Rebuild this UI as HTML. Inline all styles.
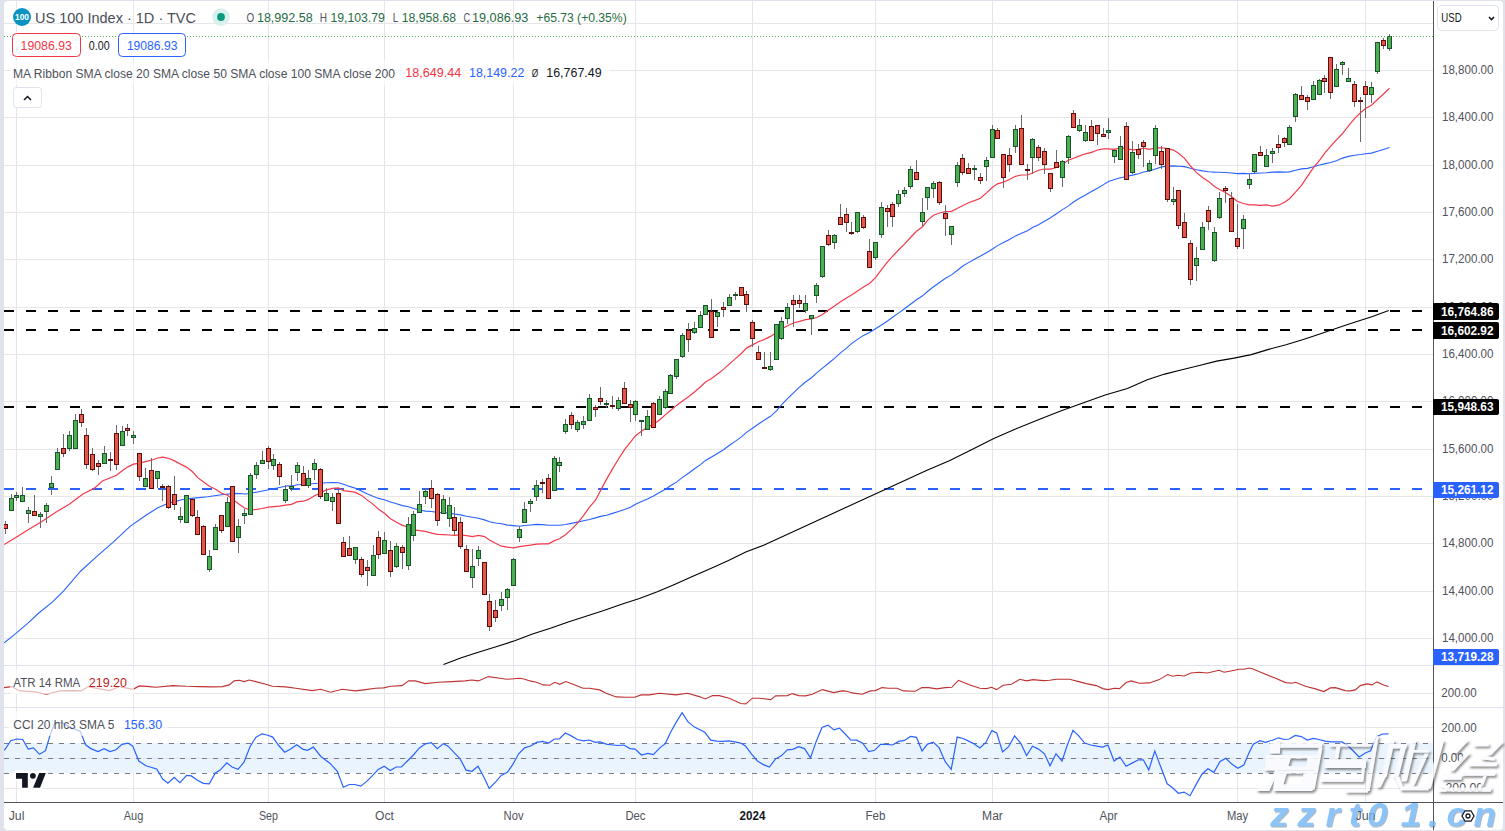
<!DOCTYPE html>
<html><head><meta charset="utf-8"><style>
html,body{margin:0;padding:0;background:#e0e3eb;width:1505px;height:831px;overflow:hidden;}
</style></head><body>
<svg width="1505" height="831" viewBox="0 0 1505 831" style="position:absolute;left:0;top:0;font-family:'Liberation Sans', sans-serif">
<defs><clipPath id="cm"><rect x="4" y="1" width="1429" height="664"/></clipPath><clipPath id="ca"><rect x="4" y="666" width="1429" height="41"/></clipPath><clipPath id="cc"><rect x="4" y="708" width="1429" height="94"/></clipPath></defs>
<rect x="4" y="1" width="1499" height="829" rx="4" fill="#ffffff"/>
<rect x="16" y="1" width="1" height="801" fill="#e6e6e8"/>
<rect x="133" y="1" width="1" height="801" fill="#e6e6e8"/>
<rect x="268" y="1" width="1" height="801" fill="#e6e6e8"/>
<rect x="384" y="1" width="1" height="801" fill="#e6e6e8"/>
<rect x="513" y="1" width="1" height="801" fill="#e6e6e8"/>
<rect x="635" y="1" width="1" height="801" fill="#e6e6e8"/>
<rect x="752" y="1" width="1" height="801" fill="#e6e6e8"/>
<rect x="875" y="1" width="1" height="801" fill="#e6e6e8"/>
<rect x="992" y="1" width="1" height="801" fill="#e6e6e8"/>
<rect x="1108" y="1" width="1" height="801" fill="#e6e6e8"/>
<rect x="1237" y="1" width="1" height="801" fill="#e6e6e8"/>
<rect x="1365" y="1" width="1" height="801" fill="#e6e6e8"/>
<line x1="4" y1="638.5" x2="1433" y2="638.5" stroke="#e6e6e8" stroke-width="1"/>
<line x1="4" y1="591.5" x2="1433" y2="591.5" stroke="#e6e6e8" stroke-width="1"/>
<line x1="4" y1="543.5" x2="1433" y2="543.5" stroke="#e6e6e8" stroke-width="1"/>
<line x1="4" y1="496.5" x2="1433" y2="496.5" stroke="#e6e6e8" stroke-width="1"/>
<line x1="4" y1="449.5" x2="1433" y2="449.5" stroke="#e6e6e8" stroke-width="1"/>
<line x1="4" y1="401.5" x2="1433" y2="401.5" stroke="#e6e6e8" stroke-width="1"/>
<line x1="4" y1="354.5" x2="1433" y2="354.5" stroke="#e6e6e8" stroke-width="1"/>
<line x1="4" y1="307.5" x2="1433" y2="307.5" stroke="#e6e6e8" stroke-width="1"/>
<line x1="4" y1="259.5" x2="1433" y2="259.5" stroke="#e6e6e8" stroke-width="1"/>
<line x1="4" y1="212.5" x2="1433" y2="212.5" stroke="#e6e6e8" stroke-width="1"/>
<line x1="4" y1="165.5" x2="1433" y2="165.5" stroke="#e6e6e8" stroke-width="1"/>
<line x1="4" y1="117.5" x2="1433" y2="117.5" stroke="#e6e6e8" stroke-width="1"/>
<line x1="4" y1="70.5" x2="1433" y2="70.5" stroke="#e6e6e8" stroke-width="1"/>
<line x1="4" y1="23.5" x2="1433" y2="23.5" stroke="#e6e6e8" stroke-width="1"/>
<line x1="4" y1="693.5" x2="1433" y2="693.5" stroke="#e6e6e8"/>
<rect x="4" y="743" width="1429" height="30" fill="#e9f4fe"/>
<line x1="4" y1="727.5" x2="1433" y2="727.5" stroke="#e6e6e8"/>
<line x1="4" y1="758.5" x2="1433" y2="758.5" stroke="#e6e6e8"/>
<line x1="4" y1="788.5" x2="1433" y2="788.5" stroke="#e6e6e8"/>
<line x1="4" y1="743.5" x2="1433" y2="743.5" stroke="#787b86" stroke-dasharray="5 6"/>
<line x1="4" y1="758.5" x2="1433" y2="758.5" stroke="#787b86" stroke-dasharray="5 6"/>
<line x1="4" y1="773.5" x2="1433" y2="773.5" stroke="#787b86" stroke-dasharray="5 6"/>
<line x1="4" y1="665.5" x2="1503" y2="665.5" stroke="#e0e3eb"/>
<line x1="4" y1="707.5" x2="1503" y2="707.5" stroke="#e0e3eb"/>
<g clip-path="url(#cm)">
<line x1="4" y1="311" x2="1433" y2="311" stroke="#000" stroke-width="2" stroke-dasharray="10 12"/>
<line x1="4" y1="330" x2="1433" y2="330" stroke="#000" stroke-width="2" stroke-dasharray="10 12"/>
<line x1="4" y1="407" x2="1433" y2="407" stroke="#000" stroke-width="2" stroke-dasharray="10 12"/>
<line x1="4" y1="489" x2="1433" y2="489" stroke="#2962ff" stroke-width="2" stroke-dasharray="10 12"/>
<polyline points="443.5,664.4 461.3,657.7 479.1,651.9 496.9,646.5 514.7,640.8 532.5,634.1 550.4,628.3 568.2,622.0 586.0,616.3 603.8,610.5 621.6,604.2 639.4,598.4 657.3,591.8 675.1,584.2 692.9,576.2 710.7,568.6 728.5,560.6 746.3,551.7 764.2,545.0 927.0,470.2 949.3,460.8 971.5,449.7 993.8,438.5 1016.1,428.7 1038.4,419.8 1060.6,410.9 1082.9,402.9 1105.2,394.9 1127.4,388.6 1147.3,379.8 1164.7,374.1 1182.0,369.8 1199.3,365.5 1216.7,361.1 1234.0,358.1 1251.3,354.6 1268.6,349.4 1286.0,344.7 1303.3,339.5 1320.6,333.8 1338.0,327.8 1355.3,322.1 1372.6,316.5 1388.7,310.4" fill="none" stroke="#000" stroke-width="1.1"/>
<polyline points="4.2,642.9 13.8,635.2 27.7,623.3 38.8,613.0 52.6,601.9 63.7,590.9 80.3,571.5 96.9,556.3 113.5,541.9 130.1,526.4 146.7,514.7 157.8,507.8 168.9,503.1 182.7,499.5 193.8,498.1 207.6,496.7 221.5,494.8 235.3,493.4 246.4,494.0 257.4,492.0 271.3,489.3 287.9,485.7 291.5,486.0 297.5,484.8 303.5,484.5 308.5,484.2 314.5,483.5 320.5,483.3 326.5,482.8 332.5,482.5 338.5,482.8 343.5,484.3 349.5,486.4 355.5,488.2 361.5,491.0 367.5,494.0 373.5,496.6 378.5,498.4 384.5,499.8 390.5,501.9 396.5,503.8 402.5,505.6 408.5,506.8 413.5,508.5 419.5,510.0 425.5,511.1 431.5,511.5 437.5,512.4 443.5,512.6 449.5,513.3 454.5,514.1 460.5,514.9 466.5,516.2 472.5,517.2 478.5,518.3 484.5,519.9 489.5,521.7 495.5,523.0 501.5,523.8 507.5,525.1 513.5,525.6 519.5,526.2 524.5,525.5 530.5,525.0 536.5,524.4 542.5,524.6 548.5,525.3 554.5,525.2 559.5,525.2 565.5,524.5 571.5,523.4 577.5,522.1 583.5,520.8 589.5,519.5 595.5,517.9 600.5,516.4 606.5,515.2 612.5,513.4 618.5,511.5 624.5,509.6 630.5,507.3 635.5,504.2 641.5,501.5 647.5,498.9 653.5,495.9 659.5,492.5 665.5,489.3 670.5,485.7 676.5,482.1 682.5,477.4 688.5,473.2 694.5,468.7 700.5,464.6 705.5,460.4 711.5,457.0 717.5,453.5 723.5,449.7 729.5,445.2 735.5,441.1 741.5,436.9 746.5,432.4 752.5,428.2 758.5,424.0 764.5,420.0 770.5,416.3 776.5,410.9 781.5,404.9 787.5,398.7 793.5,392.8 799.5,387.1 805.5,382.0 811.5,377.7 816.5,373.2 822.5,368.1 828.5,363.3 834.5,358.3 840.5,352.9 846.5,348.2 851.5,343.6 857.5,339.4 863.5,335.4 869.5,332.4 875.5,328.8 881.5,325.0 887.5,321.0 892.5,317.3 898.5,313.1 904.5,308.8 910.5,304.2 916.5,299.7 922.5,295.8 927.5,291.5 933.5,286.8 939.5,282.5 945.5,278.3 951.5,274.9 957.5,270.3 962.5,266.3 968.5,262.6 974.5,259.2 980.5,256.1 986.5,252.7 992.5,249.0 997.5,245.6 1003.5,242.5 1009.5,239.5 1015.5,235.9 1021.5,233.2 1027.5,230.7 1032.5,227.6 1038.5,224.7 1044.5,221.2 1050.5,217.8 1056.5,213.7 1062.5,209.6 1068.5,205.9 1073.5,202.0 1079.5,198.3 1085.5,194.9 1091.5,191.6 1097.5,188.2 1103.5,184.6 1108.5,181.5 1114.5,179.6 1120.5,177.7 1126.5,176.5 1132.5,175.1 1138.5,173.7 1143.5,172.0 1149.5,171.0 1155.5,169.0 1161.5,166.9 1167.5,166.1 1173.5,165.9 1178.5,166.2 1184.5,166.6 1190.5,168.3 1196.5,169.7 1202.5,170.9 1208.5,171.7 1214.5,172.1 1219.5,172.3 1225.5,172.5 1231.5,173.0 1237.5,173.6 1243.5,173.4 1249.5,173.7 1254.5,173.4 1260.5,173.0 1266.5,172.7 1272.5,172.1 1278.5,171.9 1284.5,172.1 1289.5,171.9 1295.5,170.2 1301.5,168.9 1307.5,168.4 1313.5,166.8 1319.5,165.0 1324.5,163.9 1330.5,162.5 1336.5,160.7 1342.5,158.1 1348.5,156.4 1354.5,155.2 1360.5,154.5 1365.5,153.8 1371.5,153.1 1377.5,151.3 1383.5,149.4 1389.5,147.4" fill="none" stroke="#2962ff" stroke-width="1.1"/>
<polyline points="4.2,544.6 16.6,536.9 27.7,530.0 41.5,521.7 55.4,512.5 69.2,504.2 83.0,494.0 94.1,488.4 102.4,481.0 116.5,475.3 122.5,470.5 127.5,467.1 133.5,464.1 139.5,463.1 145.5,461.6 151.5,460.2 157.5,458.0 162.5,457.1 168.5,458.3 174.5,460.9 180.5,464.1 186.5,467.1 192.5,471.8 197.5,477.4 203.5,481.9 209.5,486.3 215.5,489.3 221.5,493.2 227.5,495.2 232.5,499.1 238.5,503.8 244.5,508.0 250.5,510.0 256.5,509.4 262.5,508.5 268.5,507.2 273.5,506.6 279.5,506.1 285.5,505.2 291.5,504.3 297.5,501.7 303.5,501.2 308.5,499.4 314.5,495.8 320.5,492.9 326.5,489.8 332.5,488.3 338.5,487.9 343.5,490.6 349.5,491.3 355.5,492.4 361.5,495.4 367.5,500.1 373.5,504.6 378.5,509.3 384.5,513.2 390.5,518.8 396.5,522.3 402.5,525.4 408.5,527.3 413.5,529.8 419.5,530.7 425.5,531.4 431.5,533.1 437.5,534.3 443.5,534.6 449.5,535.0 454.5,535.4 460.5,534.8 466.5,535.6 472.5,536.6 478.5,535.4 484.5,536.6 489.5,540.1 495.5,543.3 501.5,546.2 507.5,547.1 513.5,547.8 519.5,546.6 524.5,545.8 530.5,545.2 536.5,544.2 542.5,543.8 548.5,543.8 554.5,540.6 559.5,538.8 565.5,534.7 571.5,529.4 577.5,523.2 583.5,515.6 589.5,507.2 595.5,500.2 600.5,490.6 606.5,479.4 612.5,468.9 618.5,459.0 624.5,449.7 630.5,442.1 635.5,435.7 641.5,431.3 647.5,427.1 653.5,424.2 659.5,420.0 665.5,414.6 670.5,410.5 676.5,405.4 682.5,401.0 688.5,396.7 694.5,392.0 700.5,386.8 705.5,382.1 711.5,378.5 717.5,374.0 723.5,369.4 729.5,363.9 735.5,358.6 741.5,353.2 746.5,348.1 752.5,344.9 758.5,341.8 764.5,339.4 770.5,336.4 776.5,332.6 781.5,329.1 787.5,325.7 793.5,323.0 799.5,321.4 805.5,319.6 811.5,319.0 816.5,317.5 822.5,314.5 828.5,309.9 834.5,306.0 840.5,301.8 846.5,298.0 851.5,295.0 857.5,290.9 863.5,287.0 869.5,283.5 875.5,277.7 881.5,269.6 887.5,261.9 892.5,256.4 898.5,250.0 904.5,244.2 910.5,237.5 916.5,231.3 922.5,226.7 927.5,220.3 933.5,215.2 939.5,213.0 945.5,211.7 951.5,211.3 957.5,208.3 962.5,205.8 968.5,202.8 974.5,200.6 980.5,198.2 986.5,192.9 992.5,187.2 997.5,183.8 1003.5,182.1 1009.5,179.5 1015.5,176.3 1021.5,175.0 1027.5,175.0 1032.5,173.0 1038.5,170.2 1044.5,169.0 1050.5,169.2 1056.5,167.5 1062.5,164.6 1068.5,160.1 1073.5,158.2 1079.5,155.9 1085.5,153.8 1091.5,152.4 1097.5,150.0 1103.5,148.8 1108.5,148.9 1114.5,149.4 1120.5,147.9 1126.5,148.7 1132.5,149.8 1138.5,149.3 1143.5,148.1 1149.5,149.3 1155.5,147.9 1161.5,147.9 1167.5,148.5 1173.5,150.1 1178.5,153.3 1184.5,158.4 1190.5,166.0 1196.5,172.6 1202.5,177.4 1208.5,181.4 1214.5,186.4 1219.5,189.5 1225.5,192.5 1231.5,196.6 1237.5,201.5 1243.5,203.5 1249.5,204.9 1254.5,204.9 1260.5,205.4 1266.5,204.9 1272.5,206.1 1278.5,205.2 1284.5,202.3 1289.5,198.7 1295.5,192.2 1301.5,185.3 1307.5,176.4 1313.5,167.7 1319.5,160.4 1324.5,153.4 1330.5,146.3 1336.5,139.9 1342.5,133.5 1348.5,125.8 1354.5,118.6 1360.5,112.7 1365.5,108.5 1371.5,105.2 1377.5,99.5 1383.5,94.0 1389.5,88.2" fill="none" stroke="#f23a4a" stroke-width="1.2"/>
<g fill="#6a6a6a"><rect x="5" y="521" width="1" height="13"/><rect x="11" y="494" width="1" height="16"/><rect x="16" y="492" width="1" height="9"/><rect x="22" y="487" width="1" height="14"/><rect x="28" y="507" width="1" height="16"/><rect x="34" y="495" width="1" height="20"/><rect x="40" y="512" width="1" height="16"/><rect x="46" y="503" width="1" height="20"/><rect x="51" y="476" width="1" height="19"/><rect x="57" y="448" width="1" height="22"/><rect x="63" y="434" width="1" height="23"/><rect x="69" y="431" width="1" height="20"/><rect x="75" y="414" width="1" height="34"/><rect x="81" y="409" width="1" height="18"/><rect x="86" y="428" width="1" height="41"/><rect x="92" y="448" width="1" height="23"/><rect x="98" y="460" width="1" height="15"/><rect x="104" y="446" width="1" height="17"/><rect x="110" y="452" width="1" height="19"/><rect x="116" y="425" width="1" height="45"/><rect x="122" y="426" width="1" height="19"/><rect x="127" y="424" width="1" height="12"/><rect x="133" y="431" width="1" height="13"/><rect x="139" y="453" width="1" height="28"/><rect x="145" y="468" width="1" height="18"/><rect x="151" y="458" width="1" height="30"/><rect x="157" y="471" width="1" height="17"/><rect x="162" y="484" width="1" height="17"/><rect x="168" y="485" width="1" height="24"/><rect x="174" y="476" width="1" height="34"/><rect x="180" y="507" width="1" height="16"/><rect x="186" y="495" width="1" height="28"/><rect x="192" y="498" width="1" height="19"/><rect x="197" y="510" width="1" height="24"/><rect x="203" y="525" width="1" height="30"/><rect x="209" y="550" width="1" height="22"/><rect x="215" y="524" width="1" height="25"/><rect x="221" y="515" width="1" height="18"/><rect x="227" y="497" width="1" height="29"/><rect x="232" y="486" width="1" height="55"/><rect x="238" y="519" width="1" height="34"/><rect x="244" y="509" width="1" height="15"/><rect x="250" y="473" width="1" height="41"/><rect x="256" y="462" width="1" height="17"/><rect x="262" y="451" width="1" height="12"/><rect x="268" y="446" width="1" height="23"/><rect x="273" y="454" width="1" height="16"/><rect x="279" y="462" width="1" height="23"/><rect x="285" y="485" width="1" height="18"/><rect x="291" y="475" width="1" height="16"/><rect x="297" y="462" width="1" height="19"/><rect x="303" y="466" width="1" height="19"/><rect x="308" y="470" width="1" height="18"/><rect x="314" y="459" width="1" height="21"/><rect x="320" y="468" width="1" height="31"/><rect x="326" y="488" width="1" height="12"/><rect x="332" y="493" width="1" height="18"/><rect x="338" y="490" width="1" height="33"/><rect x="343" y="537" width="1" height="19"/><rect x="349" y="536" width="1" height="19"/><rect x="355" y="547" width="1" height="17"/><rect x="361" y="557" width="1" height="20"/><rect x="367" y="560" width="1" height="26"/><rect x="373" y="545" width="1" height="31"/><rect x="378" y="531" width="1" height="28"/><rect x="384" y="532" width="1" height="22"/><rect x="390" y="541" width="1" height="36"/><rect x="396" y="543" width="1" height="25"/><rect x="402" y="545" width="1" height="24"/><rect x="408" y="517" width="1" height="53"/><rect x="413" y="511" width="1" height="30"/><rect x="419" y="491" width="1" height="22"/><rect x="425" y="488" width="1" height="16"/><rect x="431" y="480" width="1" height="28"/><rect x="437" y="493" width="1" height="33"/><rect x="443" y="495" width="1" height="18"/><rect x="449" y="497" width="1" height="30"/><rect x="454" y="507" width="1" height="28"/><rect x="460" y="517" width="1" height="32"/><rect x="466" y="545" width="1" height="26"/><rect x="472" y="549" width="1" height="39"/><rect x="478" y="546" width="1" height="20"/><rect x="484" y="562" width="1" height="32"/><rect x="489" y="594" width="1" height="37"/><rect x="495" y="600" width="1" height="22"/><rect x="501" y="592" width="1" height="19"/><rect x="507" y="588" width="1" height="22"/><rect x="513" y="558" width="1" height="27"/><rect x="519" y="526" width="1" height="16"/><rect x="524" y="502" width="1" height="21"/><rect x="530" y="499" width="1" height="13"/><rect x="536" y="480" width="1" height="21"/><rect x="542" y="479" width="1" height="14"/><rect x="548" y="474" width="1" height="25"/><rect x="554" y="456" width="1" height="34"/><rect x="559" y="457" width="1" height="15"/><rect x="565" y="419" width="1" height="15"/><rect x="571" y="412" width="1" height="17"/><rect x="577" y="420" width="1" height="12"/><rect x="583" y="416" width="1" height="13"/><rect x="589" y="394" width="1" height="26"/><rect x="595" y="405" width="1" height="12"/><rect x="600" y="387" width="1" height="18"/><rect x="606" y="400" width="1" height="8"/><rect x="612" y="396" width="1" height="13"/><rect x="618" y="397" width="1" height="14"/><rect x="624" y="382" width="1" height="21"/><rect x="630" y="400" width="1" height="22"/><rect x="635" y="400" width="1" height="21"/><rect x="641" y="420" width="1" height="16"/><rect x="647" y="410" width="1" height="19"/><rect x="653" y="402" width="1" height="26"/><rect x="659" y="396" width="1" height="19"/><rect x="665" y="389" width="1" height="20"/><rect x="670" y="374" width="1" height="19"/><rect x="676" y="359" width="1" height="20"/><rect x="682" y="333" width="1" height="25"/><rect x="688" y="323" width="1" height="29"/><rect x="694" y="322" width="1" height="12"/><rect x="700" y="311" width="1" height="16"/><rect x="705" y="305" width="1" height="9"/><rect x="711" y="299" width="1" height="38"/><rect x="717" y="311" width="1" height="16"/><rect x="723" y="302" width="1" height="15"/><rect x="729" y="294" width="1" height="11"/><rect x="735" y="292" width="1" height="8"/><rect x="741" y="287" width="1" height="8"/><rect x="746" y="291" width="1" height="21"/><rect x="752" y="320" width="1" height="27"/><rect x="758" y="346" width="1" height="14"/><rect x="764" y="352" width="1" height="16"/><rect x="770" y="352" width="1" height="19"/><rect x="776" y="324" width="1" height="35"/><rect x="781" y="317" width="1" height="23"/><rect x="787" y="303" width="1" height="21"/><rect x="793" y="295" width="1" height="32"/><rect x="799" y="295" width="1" height="13"/><rect x="805" y="295" width="1" height="18"/><rect x="811" y="315" width="1" height="20"/><rect x="816" y="283" width="1" height="20"/><rect x="822" y="246" width="1" height="32"/><rect x="828" y="230" width="1" height="16"/><rect x="834" y="234" width="1" height="15"/><rect x="840" y="204" width="1" height="21"/><rect x="846" y="208" width="1" height="24"/><rect x="851" y="222" width="1" height="13"/><rect x="857" y="212" width="1" height="21"/><rect x="863" y="215" width="1" height="14"/><rect x="869" y="239" width="1" height="28"/><rect x="875" y="242" width="1" height="18"/><rect x="881" y="202" width="1" height="36"/><rect x="887" y="205" width="1" height="22"/><rect x="892" y="202" width="1" height="25"/><rect x="898" y="190" width="1" height="17"/><rect x="904" y="187" width="1" height="10"/><rect x="910" y="166" width="1" height="23"/><rect x="916" y="160" width="1" height="20"/><rect x="922" y="198" width="1" height="28"/><rect x="927" y="187" width="1" height="23"/><rect x="933" y="181" width="1" height="17"/><rect x="939" y="181" width="1" height="24"/><rect x="945" y="205" width="1" height="31"/><rect x="951" y="226" width="1" height="19"/><rect x="957" y="162" width="1" height="25"/><rect x="962" y="154" width="1" height="21"/><rect x="968" y="163" width="1" height="10"/><rect x="974" y="165" width="1" height="15"/><rect x="980" y="173" width="1" height="11"/><rect x="986" y="157" width="1" height="24"/><rect x="992" y="125" width="1" height="32"/><rect x="997" y="128" width="1" height="10"/><rect x="1003" y="154" width="1" height="34"/><rect x="1009" y="148" width="1" height="24"/><rect x="1015" y="125" width="1" height="28"/><rect x="1021" y="115" width="1" height="50"/><rect x="1027" y="164" width="1" height="16"/><rect x="1032" y="138" width="1" height="36"/><rect x="1038" y="145" width="1" height="16"/><rect x="1044" y="148" width="1" height="26"/><rect x="1050" y="173" width="1" height="19"/><rect x="1056" y="150" width="1" height="17"/><rect x="1062" y="160" width="1" height="27"/><rect x="1068" y="135" width="1" height="29"/><rect x="1073" y="110" width="1" height="17"/><rect x="1079" y="119" width="1" height="13"/><rect x="1085" y="125" width="1" height="17"/><rect x="1091" y="120" width="1" height="20"/><rect x="1097" y="125" width="1" height="20"/><rect x="1103" y="128" width="1" height="9"/><rect x="1108" y="118" width="1" height="21"/><rect x="1114" y="150" width="1" height="13"/><rect x="1120" y="136" width="1" height="23"/><rect x="1126" y="122" width="1" height="57"/><rect x="1132" y="141" width="1" height="33"/><rect x="1138" y="144" width="1" height="15"/><rect x="1143" y="140" width="1" height="27"/><rect x="1149" y="160" width="1" height="12"/><rect x="1155" y="125" width="1" height="39"/><rect x="1161" y="146" width="1" height="23"/><rect x="1167" y="148" width="1" height="54"/><rect x="1173" y="187" width="1" height="18"/><rect x="1178" y="190" width="1" height="39"/><rect x="1184" y="213" width="1" height="24"/><rect x="1190" y="240" width="1" height="45"/><rect x="1196" y="247" width="1" height="34"/><rect x="1202" y="222" width="1" height="27"/><rect x="1208" y="206" width="1" height="24"/><rect x="1214" y="227" width="1" height="35"/><rect x="1219" y="192" width="1" height="27"/><rect x="1225" y="186" width="1" height="17"/><rect x="1231" y="192" width="1" height="39"/><rect x="1237" y="204" width="1" height="45"/><rect x="1243" y="215" width="1" height="34"/><rect x="1249" y="174" width="1" height="15"/><rect x="1254" y="154" width="1" height="19"/><rect x="1260" y="146" width="1" height="10"/><rect x="1266" y="149" width="1" height="17"/><rect x="1272" y="148" width="1" height="15"/><rect x="1278" y="135" width="1" height="18"/><rect x="1284" y="137" width="1" height="10"/><rect x="1289" y="125" width="1" height="19"/><rect x="1295" y="93" width="1" height="29"/><rect x="1301" y="86" width="1" height="13"/><rect x="1307" y="95" width="1" height="15"/><rect x="1313" y="81" width="1" height="18"/><rect x="1319" y="79" width="1" height="16"/><rect x="1324" y="75" width="1" height="18"/><rect x="1330" y="57" width="1" height="42"/><rect x="1336" y="64" width="1" height="22"/><rect x="1342" y="61" width="1" height="14"/><rect x="1348" y="68" width="1" height="13"/><rect x="1354" y="81" width="1" height="26"/><rect x="1360" y="97" width="1" height="45"/><rect x="1365" y="81" width="1" height="37"/><rect x="1371" y="82" width="1" height="21"/><rect x="1377" y="42" width="1" height="32"/><rect x="1383" y="38" width="1" height="11"/><rect x="1389" y="34" width="1" height="17"/></g>
<rect x="3" y="524" width="5" height="5" fill="#5e0d0d"/><rect x="4" y="525" width="3" height="3" fill="#e2574a"/><rect x="9" y="498" width="5" height="13" fill="#18532b"/><rect x="10" y="499" width="3" height="11" fill="#4caf50"/><rect x="14" y="495" width="5" height="3" fill="#18532b"/><rect x="15" y="496" width="3" height="1" fill="#4caf50"/><rect x="20" y="495" width="5" height="7" fill="#18532b"/><rect x="21" y="496" width="3" height="5" fill="#4caf50"/><rect x="26" y="510" width="5" height="4" fill="#18532b"/><rect x="27" y="511" width="3" height="2" fill="#4caf50"/><rect x="32" y="511" width="5" height="5" fill="#5e0d0d"/><rect x="33" y="512" width="3" height="3" fill="#e2574a"/><rect x="38" y="514" width="5" height="3" fill="#18532b"/><rect x="39" y="515" width="3" height="1" fill="#4caf50"/><rect x="44" y="505" width="5" height="7" fill="#18532b"/><rect x="45" y="506" width="3" height="5" fill="#4caf50"/><rect x="49" y="483" width="5" height="5" fill="#18532b"/><rect x="50" y="484" width="3" height="3" fill="#4caf50"/><rect x="55" y="452" width="5" height="18" fill="#18532b"/><rect x="56" y="453" width="3" height="16" fill="#4caf50"/><rect x="61" y="448" width="5" height="6" fill="#5e0d0d"/><rect x="62" y="449" width="3" height="4" fill="#e2574a"/><rect x="67" y="435" width="5" height="14" fill="#18532b"/><rect x="68" y="436" width="3" height="12" fill="#4caf50"/><rect x="73" y="420" width="5" height="29" fill="#18532b"/><rect x="74" y="421" width="3" height="27" fill="#4caf50"/><rect x="79" y="414" width="5" height="9" fill="#5e0d0d"/><rect x="80" y="415" width="3" height="7" fill="#e2574a"/><rect x="84" y="435" width="5" height="30" fill="#5e0d0d"/><rect x="85" y="436" width="3" height="28" fill="#e2574a"/><rect x="90" y="454" width="5" height="16" fill="#5e0d0d"/><rect x="91" y="455" width="3" height="14" fill="#e2574a"/><rect x="96" y="463" width="5" height="4" fill="#5e0d0d"/><rect x="97" y="464" width="3" height="2" fill="#e2574a"/><rect x="102" y="453" width="5" height="11" fill="#18532b"/><rect x="103" y="454" width="3" height="9" fill="#4caf50"/><rect x="108" y="459" width="5" height="2" fill="#5e0d0d"/><rect x="114" y="433" width="5" height="32" fill="#5e0d0d"/><rect x="115" y="434" width="3" height="30" fill="#e2574a"/><rect x="120" y="431" width="5" height="15" fill="#18532b"/><rect x="121" y="432" width="3" height="13" fill="#4caf50"/><rect x="125" y="428" width="5" height="3" fill="#5e0d0d"/><rect x="126" y="429" width="3" height="1" fill="#e2574a"/><rect x="131" y="435" width="5" height="3" fill="#18532b"/><rect x="132" y="436" width="3" height="1" fill="#4caf50"/><rect x="137" y="453" width="5" height="24" fill="#5e0d0d"/><rect x="138" y="454" width="3" height="22" fill="#e2574a"/><rect x="143" y="478" width="5" height="9" fill="#18532b"/><rect x="144" y="479" width="3" height="7" fill="#4caf50"/><rect x="149" y="470" width="5" height="19" fill="#5e0d0d"/><rect x="150" y="471" width="3" height="17" fill="#e2574a"/><rect x="155" y="471" width="5" height="8" fill="#18532b"/><rect x="156" y="472" width="3" height="6" fill="#4caf50"/><rect x="160" y="486" width="5" height="2" fill="#5e0d0d"/><rect x="166" y="486" width="5" height="22" fill="#5e0d0d"/><rect x="167" y="487" width="3" height="20" fill="#e2574a"/><rect x="172" y="494" width="5" height="11" fill="#5e0d0d"/><rect x="173" y="495" width="3" height="9" fill="#e2574a"/><rect x="178" y="516" width="5" height="4" fill="#18532b"/><rect x="179" y="517" width="3" height="2" fill="#4caf50"/><rect x="184" y="495" width="5" height="28" fill="#18532b"/><rect x="185" y="496" width="3" height="26" fill="#4caf50"/><rect x="190" y="499" width="5" height="17" fill="#5e0d0d"/><rect x="191" y="500" width="3" height="15" fill="#e2574a"/><rect x="195" y="517" width="5" height="18" fill="#5e0d0d"/><rect x="196" y="518" width="3" height="16" fill="#e2574a"/><rect x="201" y="526" width="5" height="29" fill="#5e0d0d"/><rect x="202" y="527" width="3" height="27" fill="#e2574a"/><rect x="207" y="556" width="5" height="14" fill="#18532b"/><rect x="208" y="557" width="3" height="12" fill="#4caf50"/><rect x="213" y="527" width="5" height="23" fill="#18532b"/><rect x="214" y="528" width="3" height="21" fill="#4caf50"/><rect x="219" y="515" width="5" height="16" fill="#5e0d0d"/><rect x="220" y="516" width="3" height="14" fill="#e2574a"/><rect x="225" y="502" width="5" height="25" fill="#18532b"/><rect x="226" y="503" width="3" height="23" fill="#4caf50"/><rect x="230" y="486" width="5" height="56" fill="#5e0d0d"/><rect x="231" y="487" width="3" height="54" fill="#e2574a"/><rect x="236" y="526" width="5" height="12" fill="#18532b"/><rect x="237" y="527" width="3" height="10" fill="#4caf50"/><rect x="242" y="513" width="5" height="3" fill="#18532b"/><rect x="243" y="514" width="3" height="1" fill="#4caf50"/><rect x="248" y="475" width="5" height="40" fill="#18532b"/><rect x="249" y="476" width="3" height="38" fill="#4caf50"/><rect x="254" y="465" width="5" height="10" fill="#18532b"/><rect x="255" y="466" width="3" height="8" fill="#4caf50"/><rect x="260" y="460" width="5" height="4" fill="#18532b"/><rect x="261" y="461" width="3" height="2" fill="#4caf50"/><rect x="266" y="448" width="5" height="14" fill="#5e0d0d"/><rect x="267" y="449" width="3" height="12" fill="#e2574a"/><rect x="271" y="459" width="5" height="7" fill="#18532b"/><rect x="272" y="460" width="3" height="5" fill="#4caf50"/><rect x="277" y="464" width="5" height="13" fill="#5e0d0d"/><rect x="278" y="465" width="3" height="11" fill="#e2574a"/><rect x="283" y="489" width="5" height="12" fill="#18532b"/><rect x="284" y="490" width="3" height="10" fill="#4caf50"/><rect x="289" y="486" width="5" height="3" fill="#18532b"/><rect x="290" y="487" width="3" height="1" fill="#4caf50"/><rect x="295" y="465" width="5" height="8" fill="#18532b"/><rect x="296" y="466" width="3" height="6" fill="#4caf50"/><rect x="301" y="473" width="5" height="13" fill="#5e0d0d"/><rect x="302" y="474" width="3" height="11" fill="#e2574a"/><rect x="306" y="478" width="5" height="8" fill="#18532b"/><rect x="307" y="479" width="3" height="6" fill="#4caf50"/><rect x="312" y="463" width="5" height="7" fill="#18532b"/><rect x="313" y="464" width="3" height="5" fill="#4caf50"/><rect x="318" y="469" width="5" height="28" fill="#5e0d0d"/><rect x="319" y="470" width="3" height="26" fill="#e2574a"/><rect x="324" y="493" width="5" height="8" fill="#18532b"/><rect x="325" y="494" width="3" height="6" fill="#4caf50"/><rect x="330" y="497" width="5" height="5" fill="#18532b"/><rect x="331" y="498" width="3" height="3" fill="#4caf50"/><rect x="336" y="493" width="5" height="31" fill="#5e0d0d"/><rect x="337" y="494" width="3" height="29" fill="#e2574a"/><rect x="341" y="542" width="5" height="15" fill="#5e0d0d"/><rect x="342" y="543" width="3" height="13" fill="#e2574a"/><rect x="347" y="548" width="5" height="8" fill="#5e0d0d"/><rect x="348" y="549" width="3" height="6" fill="#e2574a"/><rect x="353" y="547" width="5" height="13" fill="#18532b"/><rect x="354" y="548" width="3" height="11" fill="#4caf50"/><rect x="359" y="559" width="5" height="16" fill="#5e0d0d"/><rect x="360" y="560" width="3" height="14" fill="#e2574a"/><rect x="365" y="567" width="5" height="4" fill="#5e0d0d"/><rect x="366" y="568" width="3" height="2" fill="#e2574a"/><rect x="371" y="555" width="5" height="21" fill="#18532b"/><rect x="372" y="556" width="3" height="19" fill="#4caf50"/><rect x="376" y="537" width="5" height="18" fill="#5e0d0d"/><rect x="377" y="538" width="3" height="16" fill="#e2574a"/><rect x="382" y="540" width="5" height="14" fill="#18532b"/><rect x="383" y="541" width="3" height="12" fill="#4caf50"/><rect x="388" y="550" width="5" height="22" fill="#5e0d0d"/><rect x="389" y="551" width="3" height="20" fill="#e2574a"/><rect x="394" y="546" width="5" height="21" fill="#18532b"/><rect x="395" y="547" width="3" height="19" fill="#4caf50"/><rect x="400" y="547" width="5" height="6" fill="#5e0d0d"/><rect x="401" y="548" width="3" height="4" fill="#e2574a"/><rect x="406" y="524" width="5" height="42" fill="#18532b"/><rect x="407" y="525" width="3" height="40" fill="#4caf50"/><rect x="411" y="514" width="5" height="22" fill="#18532b"/><rect x="412" y="515" width="3" height="20" fill="#4caf50"/><rect x="417" y="504" width="5" height="9" fill="#18532b"/><rect x="418" y="505" width="3" height="7" fill="#4caf50"/><rect x="423" y="491" width="5" height="6" fill="#18532b"/><rect x="424" y="492" width="3" height="4" fill="#4caf50"/><rect x="429" y="488" width="5" height="11" fill="#5e0d0d"/><rect x="430" y="489" width="3" height="9" fill="#e2574a"/><rect x="435" y="494" width="5" height="27" fill="#5e0d0d"/><rect x="436" y="495" width="3" height="25" fill="#e2574a"/><rect x="441" y="499" width="5" height="15" fill="#18532b"/><rect x="442" y="500" width="3" height="13" fill="#4caf50"/><rect x="447" y="505" width="5" height="14" fill="#18532b"/><rect x="448" y="506" width="3" height="12" fill="#4caf50"/><rect x="452" y="517" width="5" height="14" fill="#5e0d0d"/><rect x="453" y="518" width="3" height="12" fill="#e2574a"/><rect x="458" y="522" width="5" height="25" fill="#5e0d0d"/><rect x="459" y="523" width="3" height="23" fill="#e2574a"/><rect x="464" y="549" width="5" height="23" fill="#5e0d0d"/><rect x="465" y="550" width="3" height="21" fill="#e2574a"/><rect x="470" y="566" width="5" height="12" fill="#18532b"/><rect x="471" y="567" width="3" height="10" fill="#4caf50"/><rect x="476" y="550" width="5" height="9" fill="#18532b"/><rect x="477" y="551" width="3" height="7" fill="#4caf50"/><rect x="482" y="562" width="5" height="33" fill="#5e0d0d"/><rect x="483" y="563" width="3" height="31" fill="#e2574a"/><rect x="487" y="601" width="5" height="26" fill="#5e0d0d"/><rect x="488" y="602" width="3" height="24" fill="#e2574a"/><rect x="493" y="610" width="5" height="8" fill="#5e0d0d"/><rect x="494" y="611" width="3" height="6" fill="#e2574a"/><rect x="499" y="599" width="5" height="7" fill="#18532b"/><rect x="500" y="600" width="3" height="5" fill="#4caf50"/><rect x="505" y="589" width="5" height="9" fill="#18532b"/><rect x="506" y="590" width="3" height="7" fill="#4caf50"/><rect x="511" y="559" width="5" height="27" fill="#18532b"/><rect x="512" y="560" width="3" height="25" fill="#4caf50"/><rect x="517" y="529" width="5" height="9" fill="#18532b"/><rect x="518" y="530" width="3" height="7" fill="#4caf50"/><rect x="522" y="509" width="5" height="14" fill="#18532b"/><rect x="523" y="510" width="3" height="12" fill="#4caf50"/><rect x="528" y="501" width="5" height="3" fill="#18532b"/><rect x="529" y="502" width="3" height="1" fill="#4caf50"/><rect x="534" y="485" width="5" height="12" fill="#18532b"/><rect x="535" y="486" width="3" height="10" fill="#4caf50"/><rect x="540" y="482" width="5" height="2" fill="#5e0d0d"/><rect x="546" y="478" width="5" height="21" fill="#5e0d0d"/><rect x="547" y="479" width="3" height="19" fill="#e2574a"/><rect x="552" y="458" width="5" height="33" fill="#18532b"/><rect x="553" y="459" width="3" height="31" fill="#4caf50"/><rect x="557" y="462" width="5" height="4" fill="#18532b"/><rect x="558" y="463" width="3" height="2" fill="#4caf50"/><rect x="563" y="424" width="5" height="8" fill="#18532b"/><rect x="564" y="425" width="3" height="6" fill="#4caf50"/><rect x="569" y="415" width="5" height="10" fill="#5e0d0d"/><rect x="570" y="416" width="3" height="8" fill="#e2574a"/><rect x="575" y="422" width="5" height="8" fill="#18532b"/><rect x="576" y="423" width="3" height="6" fill="#4caf50"/><rect x="581" y="421" width="5" height="4" fill="#18532b"/><rect x="582" y="422" width="3" height="2" fill="#4caf50"/><rect x="587" y="398" width="5" height="23" fill="#18532b"/><rect x="588" y="399" width="3" height="21" fill="#4caf50"/><rect x="593" y="407" width="5" height="3" fill="#5e0d0d"/><rect x="594" y="408" width="3" height="1" fill="#e2574a"/><rect x="598" y="398" width="5" height="4" fill="#5e0d0d"/><rect x="599" y="399" width="3" height="2" fill="#e2574a"/><rect x="604" y="403" width="5" height="2" fill="#18532b"/><rect x="610" y="405" width="5" height="2" fill="#5e0d0d"/><rect x="616" y="400" width="5" height="9" fill="#18532b"/><rect x="617" y="401" width="3" height="7" fill="#4caf50"/><rect x="622" y="388" width="5" height="16" fill="#5e0d0d"/><rect x="623" y="389" width="3" height="14" fill="#e2574a"/><rect x="628" y="404" width="5" height="4" fill="#5e0d0d"/><rect x="629" y="405" width="3" height="2" fill="#e2574a"/><rect x="633" y="401" width="5" height="14" fill="#18532b"/><rect x="634" y="402" width="3" height="12" fill="#4caf50"/><rect x="639" y="420" width="5" height="2" fill="#18532b"/><rect x="645" y="416" width="5" height="14" fill="#18532b"/><rect x="646" y="417" width="3" height="12" fill="#4caf50"/><rect x="651" y="403" width="5" height="25" fill="#5e0d0d"/><rect x="652" y="404" width="3" height="23" fill="#e2574a"/><rect x="657" y="399" width="5" height="16" fill="#18532b"/><rect x="658" y="400" width="3" height="14" fill="#4caf50"/><rect x="663" y="391" width="5" height="17" fill="#18532b"/><rect x="664" y="392" width="3" height="15" fill="#4caf50"/><rect x="668" y="375" width="5" height="19" fill="#18532b"/><rect x="669" y="376" width="3" height="17" fill="#4caf50"/><rect x="674" y="359" width="5" height="18" fill="#18532b"/><rect x="675" y="360" width="3" height="16" fill="#4caf50"/><rect x="680" y="335" width="5" height="22" fill="#18532b"/><rect x="681" y="336" width="3" height="20" fill="#4caf50"/><rect x="686" y="330" width="5" height="10" fill="#5e0d0d"/><rect x="687" y="331" width="3" height="8" fill="#e2574a"/><rect x="692" y="328" width="5" height="5" fill="#18532b"/><rect x="693" y="329" width="3" height="3" fill="#4caf50"/><rect x="698" y="315" width="5" height="13" fill="#18532b"/><rect x="699" y="316" width="3" height="11" fill="#4caf50"/><rect x="703" y="305" width="5" height="10" fill="#18532b"/><rect x="704" y="306" width="3" height="8" fill="#4caf50"/><rect x="709" y="311" width="5" height="27" fill="#5e0d0d"/><rect x="710" y="312" width="3" height="25" fill="#e2574a"/><rect x="715" y="312" width="5" height="5" fill="#18532b"/><rect x="716" y="313" width="3" height="3" fill="#4caf50"/><rect x="721" y="307" width="5" height="3" fill="#5e0d0d"/><rect x="722" y="308" width="3" height="1" fill="#e2574a"/><rect x="727" y="297" width="5" height="9" fill="#18532b"/><rect x="728" y="298" width="3" height="7" fill="#4caf50"/><rect x="733" y="294" width="5" height="2" fill="#18532b"/><rect x="739" y="287" width="5" height="9" fill="#5e0d0d"/><rect x="740" y="288" width="3" height="7" fill="#e2574a"/><rect x="744" y="294" width="5" height="11" fill="#5e0d0d"/><rect x="745" y="295" width="3" height="9" fill="#e2574a"/><rect x="750" y="322" width="5" height="17" fill="#5e0d0d"/><rect x="751" y="323" width="3" height="15" fill="#e2574a"/><rect x="756" y="352" width="5" height="8" fill="#5e0d0d"/><rect x="757" y="353" width="3" height="6" fill="#e2574a"/><rect x="762" y="367" width="5" height="2" fill="#5e0d0d"/><rect x="768" y="366" width="5" height="4" fill="#18532b"/><rect x="769" y="367" width="3" height="2" fill="#4caf50"/><rect x="774" y="324" width="5" height="36" fill="#18532b"/><rect x="775" y="325" width="3" height="34" fill="#4caf50"/><rect x="779" y="321" width="5" height="18" fill="#18532b"/><rect x="780" y="322" width="3" height="16" fill="#4caf50"/><rect x="785" y="307" width="5" height="12" fill="#18532b"/><rect x="786" y="308" width="3" height="10" fill="#4caf50"/><rect x="791" y="300" width="5" height="5" fill="#5e0d0d"/><rect x="792" y="301" width="3" height="3" fill="#e2574a"/><rect x="797" y="300" width="5" height="4" fill="#5e0d0d"/><rect x="798" y="301" width="3" height="2" fill="#e2574a"/><rect x="803" y="303" width="5" height="8" fill="#18532b"/><rect x="804" y="304" width="3" height="6" fill="#4caf50"/><rect x="809" y="315" width="5" height="4" fill="#18532b"/><rect x="810" y="316" width="3" height="2" fill="#4caf50"/><rect x="814" y="285" width="5" height="11" fill="#18532b"/><rect x="815" y="286" width="3" height="9" fill="#4caf50"/><rect x="820" y="246" width="5" height="31" fill="#18532b"/><rect x="821" y="247" width="3" height="29" fill="#4caf50"/><rect x="826" y="235" width="5" height="10" fill="#5e0d0d"/><rect x="827" y="236" width="3" height="8" fill="#e2574a"/><rect x="832" y="235" width="5" height="8" fill="#18532b"/><rect x="833" y="236" width="3" height="6" fill="#4caf50"/><rect x="838" y="217" width="5" height="8" fill="#5e0d0d"/><rect x="839" y="218" width="3" height="6" fill="#e2574a"/><rect x="844" y="214" width="5" height="9" fill="#5e0d0d"/><rect x="845" y="215" width="3" height="7" fill="#e2574a"/><rect x="849" y="232" width="5" height="2" fill="#5e0d0d"/><rect x="855" y="212" width="5" height="20" fill="#18532b"/><rect x="856" y="213" width="3" height="18" fill="#4caf50"/><rect x="861" y="217" width="5" height="11" fill="#5e0d0d"/><rect x="862" y="218" width="3" height="9" fill="#e2574a"/><rect x="867" y="251" width="5" height="17" fill="#5e0d0d"/><rect x="868" y="252" width="3" height="15" fill="#e2574a"/><rect x="873" y="242" width="5" height="16" fill="#18532b"/><rect x="874" y="243" width="3" height="14" fill="#4caf50"/><rect x="879" y="207" width="5" height="28" fill="#18532b"/><rect x="880" y="208" width="3" height="26" fill="#4caf50"/><rect x="885" y="208" width="5" height="4" fill="#5e0d0d"/><rect x="886" y="209" width="3" height="2" fill="#e2574a"/><rect x="890" y="204" width="5" height="13" fill="#5e0d0d"/><rect x="891" y="205" width="3" height="11" fill="#e2574a"/><rect x="896" y="194" width="5" height="10" fill="#18532b"/><rect x="897" y="195" width="3" height="8" fill="#4caf50"/><rect x="902" y="190" width="5" height="4" fill="#18532b"/><rect x="903" y="191" width="3" height="2" fill="#4caf50"/><rect x="908" y="169" width="5" height="18" fill="#18532b"/><rect x="909" y="170" width="3" height="16" fill="#4caf50"/><rect x="914" y="172" width="5" height="8" fill="#5e0d0d"/><rect x="915" y="173" width="3" height="6" fill="#e2574a"/><rect x="920" y="212" width="5" height="10" fill="#18532b"/><rect x="921" y="213" width="3" height="8" fill="#4caf50"/><rect x="925" y="187" width="5" height="11" fill="#18532b"/><rect x="926" y="188" width="3" height="9" fill="#4caf50"/><rect x="931" y="183" width="5" height="6" fill="#18532b"/><rect x="932" y="184" width="3" height="4" fill="#4caf50"/><rect x="937" y="182" width="5" height="21" fill="#5e0d0d"/><rect x="938" y="183" width="3" height="19" fill="#e2574a"/><rect x="943" y="213" width="5" height="6" fill="#5e0d0d"/><rect x="944" y="214" width="3" height="4" fill="#e2574a"/><rect x="949" y="226" width="5" height="9" fill="#18532b"/><rect x="950" y="227" width="3" height="7" fill="#4caf50"/><rect x="955" y="165" width="5" height="18" fill="#18532b"/><rect x="956" y="166" width="3" height="16" fill="#4caf50"/><rect x="960" y="158" width="5" height="15" fill="#5e0d0d"/><rect x="961" y="159" width="3" height="13" fill="#e2574a"/><rect x="966" y="168" width="5" height="6" fill="#5e0d0d"/><rect x="967" y="169" width="3" height="4" fill="#e2574a"/><rect x="972" y="168" width="5" height="2" fill="#18532b"/><rect x="978" y="177" width="5" height="4" fill="#5e0d0d"/><rect x="979" y="178" width="3" height="2" fill="#e2574a"/><rect x="984" y="160" width="5" height="7" fill="#18532b"/><rect x="985" y="161" width="3" height="5" fill="#4caf50"/><rect x="990" y="129" width="5" height="29" fill="#18532b"/><rect x="991" y="130" width="3" height="27" fill="#4caf50"/><rect x="995" y="130" width="5" height="9" fill="#5e0d0d"/><rect x="996" y="131" width="3" height="7" fill="#e2574a"/><rect x="1001" y="154" width="5" height="24" fill="#5e0d0d"/><rect x="1002" y="155" width="3" height="22" fill="#e2574a"/><rect x="1007" y="155" width="5" height="10" fill="#5e0d0d"/><rect x="1008" y="156" width="3" height="8" fill="#e2574a"/><rect x="1013" y="129" width="5" height="18" fill="#18532b"/><rect x="1014" y="130" width="3" height="16" fill="#4caf50"/><rect x="1019" y="128" width="5" height="37" fill="#5e0d0d"/><rect x="1020" y="129" width="3" height="35" fill="#e2574a"/><rect x="1025" y="169" width="5" height="2" fill="#5e0d0d"/><rect x="1030" y="139" width="5" height="19" fill="#18532b"/><rect x="1031" y="140" width="3" height="17" fill="#4caf50"/><rect x="1036" y="147" width="5" height="11" fill="#5e0d0d"/><rect x="1037" y="148" width="3" height="9" fill="#e2574a"/><rect x="1042" y="151" width="5" height="14" fill="#5e0d0d"/><rect x="1043" y="152" width="3" height="12" fill="#e2574a"/><rect x="1048" y="173" width="5" height="16" fill="#5e0d0d"/><rect x="1049" y="174" width="3" height="14" fill="#e2574a"/><rect x="1054" y="162" width="5" height="6" fill="#5e0d0d"/><rect x="1055" y="163" width="3" height="4" fill="#e2574a"/><rect x="1060" y="161" width="5" height="17" fill="#18532b"/><rect x="1061" y="162" width="3" height="15" fill="#4caf50"/><rect x="1066" y="136" width="5" height="22" fill="#18532b"/><rect x="1067" y="137" width="3" height="20" fill="#4caf50"/><rect x="1071" y="113" width="5" height="15" fill="#5e0d0d"/><rect x="1072" y="114" width="3" height="13" fill="#e2574a"/><rect x="1077" y="125" width="5" height="6" fill="#18532b"/><rect x="1078" y="126" width="3" height="4" fill="#4caf50"/><rect x="1083" y="132" width="5" height="9" fill="#18532b"/><rect x="1084" y="133" width="3" height="7" fill="#4caf50"/><rect x="1089" y="126" width="5" height="15" fill="#5e0d0d"/><rect x="1090" y="127" width="3" height="13" fill="#e2574a"/><rect x="1095" y="125" width="5" height="9" fill="#5e0d0d"/><rect x="1096" y="126" width="3" height="7" fill="#e2574a"/><rect x="1101" y="134" width="5" height="3" fill="#5e0d0d"/><rect x="1102" y="135" width="3" height="1" fill="#e2574a"/><rect x="1106" y="130" width="5" height="3" fill="#18532b"/><rect x="1107" y="131" width="3" height="1" fill="#4caf50"/><rect x="1112" y="150" width="5" height="7" fill="#18532b"/><rect x="1113" y="151" width="3" height="5" fill="#4caf50"/><rect x="1118" y="146" width="5" height="14" fill="#18532b"/><rect x="1119" y="147" width="3" height="12" fill="#4caf50"/><rect x="1124" y="126" width="5" height="54" fill="#5e0d0d"/><rect x="1125" y="127" width="3" height="52" fill="#e2574a"/><rect x="1130" y="152" width="5" height="21" fill="#18532b"/><rect x="1131" y="153" width="3" height="19" fill="#4caf50"/><rect x="1136" y="149" width="5" height="6" fill="#5e0d0d"/><rect x="1137" y="150" width="3" height="4" fill="#e2574a"/><rect x="1141" y="142" width="5" height="5" fill="#5e0d0d"/><rect x="1142" y="143" width="3" height="3" fill="#e2574a"/><rect x="1147" y="163" width="5" height="8" fill="#18532b"/><rect x="1148" y="164" width="3" height="6" fill="#4caf50"/><rect x="1153" y="128" width="5" height="28" fill="#18532b"/><rect x="1154" y="129" width="3" height="26" fill="#4caf50"/><rect x="1159" y="151" width="5" height="14" fill="#5e0d0d"/><rect x="1160" y="152" width="3" height="12" fill="#e2574a"/><rect x="1165" y="148" width="5" height="52" fill="#5e0d0d"/><rect x="1166" y="149" width="3" height="50" fill="#e2574a"/><rect x="1171" y="199" width="5" height="3" fill="#18532b"/><rect x="1172" y="200" width="3" height="1" fill="#4caf50"/><rect x="1176" y="190" width="5" height="36" fill="#5e0d0d"/><rect x="1177" y="191" width="3" height="34" fill="#e2574a"/><rect x="1182" y="222" width="5" height="16" fill="#5e0d0d"/><rect x="1183" y="223" width="3" height="14" fill="#e2574a"/><rect x="1188" y="243" width="5" height="37" fill="#5e0d0d"/><rect x="1189" y="244" width="3" height="35" fill="#e2574a"/><rect x="1194" y="258" width="5" height="8" fill="#18532b"/><rect x="1195" y="259" width="3" height="6" fill="#4caf50"/><rect x="1200" y="227" width="5" height="23" fill="#18532b"/><rect x="1201" y="228" width="3" height="21" fill="#4caf50"/><rect x="1206" y="210" width="5" height="12" fill="#5e0d0d"/><rect x="1207" y="211" width="3" height="10" fill="#e2574a"/><rect x="1212" y="232" width="5" height="29" fill="#18532b"/><rect x="1213" y="233" width="3" height="27" fill="#4caf50"/><rect x="1217" y="198" width="5" height="20" fill="#18532b"/><rect x="1218" y="199" width="3" height="18" fill="#4caf50"/><rect x="1223" y="188" width="5" height="3" fill="#5e0d0d"/><rect x="1224" y="189" width="3" height="1" fill="#e2574a"/><rect x="1229" y="198" width="5" height="34" fill="#5e0d0d"/><rect x="1230" y="199" width="3" height="32" fill="#e2574a"/><rect x="1235" y="238" width="5" height="9" fill="#5e0d0d"/><rect x="1236" y="239" width="3" height="7" fill="#e2574a"/><rect x="1241" y="219" width="5" height="10" fill="#18532b"/><rect x="1242" y="220" width="3" height="8" fill="#4caf50"/><rect x="1247" y="179" width="5" height="6" fill="#18532b"/><rect x="1248" y="180" width="3" height="4" fill="#4caf50"/><rect x="1252" y="154" width="5" height="18" fill="#18532b"/><rect x="1253" y="155" width="3" height="16" fill="#4caf50"/><rect x="1258" y="152" width="5" height="4" fill="#5e0d0d"/><rect x="1259" y="153" width="3" height="2" fill="#e2574a"/><rect x="1264" y="155" width="5" height="12" fill="#18532b"/><rect x="1265" y="156" width="3" height="10" fill="#4caf50"/><rect x="1270" y="151" width="5" height="3" fill="#18532b"/><rect x="1271" y="152" width="3" height="1" fill="#4caf50"/><rect x="1276" y="144" width="5" height="4" fill="#5e0d0d"/><rect x="1277" y="145" width="3" height="2" fill="#e2574a"/><rect x="1282" y="138" width="5" height="5" fill="#5e0d0d"/><rect x="1283" y="139" width="3" height="3" fill="#e2574a"/><rect x="1287" y="127" width="5" height="18" fill="#18532b"/><rect x="1288" y="128" width="3" height="16" fill="#4caf50"/><rect x="1293" y="94" width="5" height="23" fill="#18532b"/><rect x="1294" y="95" width="3" height="21" fill="#4caf50"/><rect x="1299" y="95" width="5" height="5" fill="#5e0d0d"/><rect x="1300" y="96" width="3" height="3" fill="#e2574a"/><rect x="1305" y="97" width="5" height="5" fill="#5e0d0d"/><rect x="1306" y="98" width="3" height="3" fill="#e2574a"/><rect x="1311" y="85" width="5" height="15" fill="#18532b"/><rect x="1312" y="86" width="3" height="13" fill="#4caf50"/><rect x="1317" y="80" width="5" height="15" fill="#18532b"/><rect x="1318" y="81" width="3" height="13" fill="#4caf50"/><rect x="1322" y="78" width="5" height="4" fill="#5e0d0d"/><rect x="1323" y="79" width="3" height="2" fill="#e2574a"/><rect x="1328" y="57" width="5" height="36" fill="#5e0d0d"/><rect x="1329" y="58" width="3" height="34" fill="#e2574a"/><rect x="1334" y="69" width="5" height="18" fill="#18532b"/><rect x="1335" y="70" width="3" height="16" fill="#4caf50"/><rect x="1340" y="62" width="5" height="3" fill="#18532b"/><rect x="1341" y="63" width="3" height="1" fill="#4caf50"/><rect x="1346" y="78" width="5" height="4" fill="#18532b"/><rect x="1347" y="79" width="3" height="2" fill="#4caf50"/><rect x="1352" y="84" width="5" height="18" fill="#5e0d0d"/><rect x="1353" y="85" width="3" height="16" fill="#e2574a"/><rect x="1358" y="100" width="5" height="2" fill="#5e0d0d"/><rect x="1363" y="86" width="5" height="9" fill="#5e0d0d"/><rect x="1364" y="87" width="3" height="7" fill="#e2574a"/><rect x="1369" y="87" width="5" height="8" fill="#18532b"/><rect x="1370" y="88" width="3" height="6" fill="#4caf50"/><rect x="1375" y="42" width="5" height="30" fill="#18532b"/><rect x="1376" y="43" width="3" height="28" fill="#4caf50"/><rect x="1381" y="40" width="5" height="6" fill="#5e0d0d"/><rect x="1382" y="41" width="3" height="4" fill="#e2574a"/><rect x="1387" y="36" width="5" height="13" fill="#18532b"/><rect x="1388" y="37" width="3" height="11" fill="#4caf50"/>
<line x1="4" y1="36.5" x2="1433" y2="36.5" stroke="#4caf50" stroke-width="1" stroke-dasharray="1 2"/>
</g>
<g clip-path="url(#ca)">
<polyline points="4.0,687.6 11.6,686.6 19.9,690.9 33.2,691.6 46.5,694.2 59.8,690.9 73.1,690.6 81.4,690.9 88.0,686.6 99.7,688.9 109.6,690.6 119.6,686.6 132.9,689.3 139.5,685.9 149.5,686.6 156.1,687.3 172.8,685.6 186.0,686.3 199.3,686.6 212.6,686.9 222.6,686.6 229.2,684.9 234.2,680.9 239.2,680.3 244.2,681.6 249.2,680.0 255.8,681.6 265.8,684.3 272.4,686.3 285.7,686.9 295.7,688.3 312.3,690.6 320.6,689.3 330.6,692.2 342.2,689.3 355.5,690.9 365.4,689.6 375.4,688.3 383.7,687.9 390.4,686.3 402.0,685.6 408.6,680.9 415.3,680.9 425.2,683.6 438.5,682.3 451.8,681.6 465.1,680.9 471.8,680.0 478.4,680.9 488.3,676.6 499.9,678.3 506.6,679.3 519.9,678.3 524.9,679.3 529.8,680.9 536.5,682.3 543.1,684.9 549.8,685.3 554.8,682.3 559.7,684.3 565.7,681.6 573.0,684.3 583.0,688.3 589.6,688.3 599.6,689.9 606.2,693.2 616.2,696.9 626.2,697.2 634.5,697.2 641.1,694.9 649.4,694.9 659.4,693.2 676.0,694.9 687.6,693.2 699.3,696.6 705.2,698.9 712.6,695.6 719.2,695.6 729.2,698.2 740.8,703.5 745.8,703.9 752.4,698.2 759.1,698.2 770.7,699.6 775.7,695.9 787.3,695.6 792.3,693.6 798.9,695.6 805.6,695.9 812.2,694.2 822.2,689.6 833.8,692.6 842.1,690.9 847.1,691.2 852.1,692.9 862.1,694.2 870.4,690.9 875.3,690.6 882.0,687.6 888.6,688.3 896.9,688.3 903.6,690.9 915.2,691.2 921.9,687.6 928.5,687.6 936.8,688.9 945.1,687.6 951.8,687.3 958.4,680.3 960.0,680.9 970.0,684.9 979.9,688.3 986.6,688.6 991.6,687.3 996.5,689.6 1003.2,685.3 1011.5,684.3 1019.8,679.3 1026.4,680.9 1033.1,679.6 1043.1,680.6 1049.7,680.3 1056.3,679.3 1069.6,679.3 1079.6,681.9 1086.2,683.6 1096.2,685.6 1102.9,688.6 1107.8,689.6 1114.5,688.3 1119.5,688.6 1126.1,682.6 1131.1,680.9 1139.4,683.3 1149.4,682.9 1159.3,679.6 1167.6,674.6 1172.6,676.3 1177.6,675.3 1184.3,676.0 1190.9,673.0 1199.2,672.3 1207.5,673.0 1219.1,670.3 1224.1,672.3 1230.8,671.0 1239.1,669.3 1244.1,669.3 1249.0,668.0 1252.4,668.7 1260.7,672.3 1275.6,678.3 1285.6,682.6 1292.2,683.3 1295.5,682.3 1305.5,686.3 1315.5,688.9 1323.8,691.6 1330.4,687.9 1335.4,687.6 1345.4,690.6 1350.4,690.9 1355.3,689.9 1360.3,685.6 1367.0,683.9 1372.0,684.9 1376.9,681.9 1383.6,684.9 1388.6,686.6" fill="none" stroke="#b71c1c" stroke-width="1.1" opacity="0.9"/>
</g>
<g clip-path="url(#cc)">
<polyline points="4.3,750.3 10.8,740.7 16.7,739.0 22.7,739.5 28.2,749.1 33.5,747.9 39.5,754.3 45.5,750.7 50.2,734.7 55.0,722.7 62.2,722.7 69.4,727.1 80.1,731.1 85.6,744.8 90.9,748.6 98.1,751.5 104.1,748.6 110.0,751.5 116.0,749.8 122.0,744.3 128.0,743.1 132.8,746.2 138.8,761.0 145.9,765.8 156.7,768.9 162.7,779.0 167.9,783.3 174.2,777.3 179.9,782.6 186.6,775.4 191.4,775.9 197.4,780.2 203.3,783.3 209.3,783.8 215.3,773.0 220.1,770.1 226.8,762.9 232.1,767.0 238.0,769.4 244.0,762.2 250.0,746.7 256.0,737.1 262.0,733.8 267.9,735.2 272.7,737.1 278.7,745.5 284.7,752.2 290.7,749.1 296.7,744.8 302.6,749.1 307.4,750.3 313.4,747.1 320.6,756.2 330.1,763.4 337.3,771.3 343.3,787.3 349.3,784.5 354.8,784.5 360.8,786.1 366.7,781.4 372.7,775.4 378.2,769.4 384.2,766.3 390.2,770.6 396.2,767.0 401.4,767.0 407.4,761.0 413.4,755.0 419.4,747.9 425.4,743.8 431.3,742.6 437.3,748.6 443.3,743.6 448.1,746.2 454.1,752.7 460.0,758.6 466.0,770.1 472.0,771.3 478.0,766.3 484.0,777.3 489.2,788.5 495.5,782.1 501.2,775.4 507.4,772.3 512.7,764.6 518.7,753.8 524.6,747.9 530.6,746.0 536.6,742.4 542.6,741.4 548.6,743.1 554.5,739.0 559.3,739.0 565.3,733.0 571.3,735.9 577.3,739.5 583.3,740.9 589.2,740.0 595.2,742.4 600.0,741.9 607.2,744.3 613.2,745.0 617.9,745.5 623.9,745.0 629.9,748.6 635.2,749.1 641.4,755.0 647.8,753.4 653.3,754.6 659.8,747.9 665.3,743.6 670.6,732.3 676.6,721.6 682.1,712.7 687.8,721.6 694.5,727.1 704.8,732.3 710.8,740.2 716.7,741.2 722.7,741.4 728.7,740.9 734.7,741.9 740.7,743.1 745.5,746.0 751.4,753.8 757.4,761.0 763.4,764.6 769.4,767.0 775.4,759.1 781.3,755.8 787.3,749.8 792.8,749.3 798.6,746.7 804.5,748.6 810.5,757.9 816.0,741.9 822.0,727.5 828.0,725.1 834.0,729.9 839.5,728.2 844.7,733.5 850.7,740.0 856.7,740.2 862.7,743.1 868.7,751.5 874.6,750.3 880.6,744.3 886.6,744.3 892.6,745.0 898.6,741.4 904.5,740.4 910.5,736.4 916.5,737.3 922.0,751.0 927.3,744.3 933.3,742.1 939.2,747.9 945.2,761.7 951.2,769.4 957.2,737.1 963.2,738.5 969.1,741.4 973.9,743.8 979.9,747.9 985.9,742.4 991.9,730.6 996.7,733.0 1002.6,751.9 1008.6,746.7 1014.6,735.9 1020.6,743.1 1026.6,755.5 1032.5,746.2 1038.5,749.1 1044.5,753.8 1050.0,765.8 1056.0,753.8 1062.0,761.0 1067.2,745.5 1073.0,730.4 1078.7,735.9 1084.7,743.1 1090.7,745.0 1096.7,746.2 1102.6,747.1 1107.9,745.0 1114.1,761.0 1119.9,757.0 1126.1,766.3 1132.5,762.9 1138.5,759.8 1143.3,759.8 1148.8,769.9 1154.8,751.0 1160.5,766.3 1167.2,783.8 1172.5,787.8 1178.5,793.3 1184.0,792.1 1190.0,795.7 1195.9,784.9 1201.9,774.2 1207.9,768.7 1213.9,772.3 1219.9,761.7 1225.8,758.2 1231.8,764.1 1237.8,768.2 1243.8,765.1 1248.6,753.8 1253.3,744.3 1260.0,740.7 1265.3,742.4 1271.3,740.7 1278.5,737.8 1284.4,739.5 1289.2,739.0 1295.2,735.4 1301.2,736.6 1307.2,740.0 1313.2,738.3 1319.1,739.5 1325.1,741.2 1331.1,741.9 1337.1,741.9 1341.9,741.9 1347.8,745.5 1353.8,751.5 1359.1,757.0 1365.8,752.7 1370.6,750.7 1376.6,736.6 1382.5,734.0 1388.5,733.8" fill="none" stroke="#2962ff" stroke-width="1.2"/>
</g>
<rect x="1433" y="1" width="1" height="829" fill="#50535e"/>
<rect x="4" y="802" width="1499" height="1" fill="#50535e"/>
<text x="1442" y="642" font-size="12.2" fill="#50535c" textLength="51.5" lengthAdjust="spacingAndGlyphs">14,000.00</text>
<text x="1442" y="595" font-size="12.2" fill="#50535c" textLength="51.5" lengthAdjust="spacingAndGlyphs">14,400.00</text>
<text x="1442" y="547" font-size="12.2" fill="#50535c" textLength="51.5" lengthAdjust="spacingAndGlyphs">14,800.00</text>
<text x="1442" y="453" font-size="12.2" fill="#50535c" textLength="51.5" lengthAdjust="spacingAndGlyphs">15,600.00</text>
<text x="1442" y="358" font-size="12.2" fill="#50535c" textLength="51.5" lengthAdjust="spacingAndGlyphs">16,400.00</text>
<text x="1442" y="263" font-size="12.2" fill="#50535c" textLength="51.5" lengthAdjust="spacingAndGlyphs">17,200.00</text>
<text x="1442" y="216" font-size="12.2" fill="#50535c" textLength="51.5" lengthAdjust="spacingAndGlyphs">17,600.00</text>
<text x="1442" y="169" font-size="12.2" fill="#50535c" textLength="51.5" lengthAdjust="spacingAndGlyphs">18,000.00</text>
<text x="1442" y="121" font-size="12.2" fill="#50535c" textLength="51.5" lengthAdjust="spacingAndGlyphs">18,400.00</text>
<text x="1442" y="74" font-size="12.2" fill="#50535c" textLength="51.5" lengthAdjust="spacingAndGlyphs">18,800.00</text>
<text x="1442" y="311" font-size="12.2" fill="#50535c" textLength="51.5" lengthAdjust="spacingAndGlyphs">16,800.00</text>
<text x="1442" y="405" font-size="12.2" fill="#50535c" textLength="51.5" lengthAdjust="spacingAndGlyphs">16,000.00</text>
<text x="1442" y="500" font-size="12.2" fill="#50535c" textLength="51.5" lengthAdjust="spacingAndGlyphs">15,200.00</text>
<rect x="1433" y="303" width="66" height="17" rx="2" fill="#000"/>
<rect x="1433" y="303" width="3" height="17" fill="#000"/>
<text x="1441" y="315.8" font-size="12.3" font-weight="bold" fill="#fff" textLength="52.5" lengthAdjust="spacingAndGlyphs">16,764.86</text>
<rect x="1433" y="322" width="66" height="17" rx="2" fill="#000"/>
<rect x="1433" y="322" width="3" height="17" fill="#000"/>
<text x="1441" y="334.8" font-size="12.3" font-weight="bold" fill="#fff" textLength="52.5" lengthAdjust="spacingAndGlyphs">16,602.92</text>
<rect x="1433" y="399" width="66" height="16" rx="2" fill="#000"/>
<rect x="1433" y="399" width="3" height="16" fill="#000"/>
<text x="1441" y="411.3" font-size="12.3" font-weight="bold" fill="#fff" textLength="52.5" lengthAdjust="spacingAndGlyphs">15,948.63</text>
<rect x="1433" y="482" width="66" height="16" rx="2" fill="#2962ff"/>
<rect x="1433" y="482" width="3" height="16" fill="#2962ff"/>
<text x="1441" y="494.3" font-size="12.3" font-weight="bold" fill="#fff" textLength="52.5" lengthAdjust="spacingAndGlyphs">15,261.12</text>
<rect x="1433" y="649" width="66" height="16" rx="2" fill="#2962ff"/>
<rect x="1433" y="649" width="3" height="16" fill="#2962ff"/>
<text x="1441" y="661.3" font-size="12.3" font-weight="bold" fill="#fff" textLength="52.5" lengthAdjust="spacingAndGlyphs">13,719.28</text>
<text x="1441.3" y="697" font-size="12.2" fill="#50535c" textLength="35.4" lengthAdjust="spacingAndGlyphs">200.00</text>
<text x="1441.3" y="731.5" font-size="12.2" fill="#50535c" textLength="35.4" lengthAdjust="spacingAndGlyphs">200.00</text>
<text x="1441.3" y="762" font-size="12.2" fill="#50535c" textLength="22.3" lengthAdjust="spacingAndGlyphs">0.00</text>
<text x="1441.3" y="792" font-size="12.2" fill="#50535c" textLength="41.9" lengthAdjust="spacingAndGlyphs">-200.00</text>
<rect x="1437.5" y="5.5" width="61" height="25" rx="4" fill="#fff" stroke="#e0e3eb"/>
<text x="1441.3" y="22.4" font-size="13" fill="#131722" textLength="20.3" lengthAdjust="spacingAndGlyphs">USD</text>
<path d="M1489 17 l2.5 2.5 l2.5 -2.5" fill="none" stroke="#131722" stroke-width="1.6"/>
<text x="8.7" y="820" font-size="12" fill="#50535c" font-weight="normal" textLength="15.7" lengthAdjust="spacingAndGlyphs">Jul</text>
<text x="123.8" y="820" font-size="12" fill="#50535c" font-weight="normal" textLength="19.5" lengthAdjust="spacingAndGlyphs">Aug</text>
<text x="259.0" y="820" font-size="12" fill="#50535c" font-weight="normal" textLength="19" lengthAdjust="spacingAndGlyphs">Sep</text>
<text x="375.1" y="820" font-size="12" fill="#50535c" font-weight="normal" textLength="18.7" lengthAdjust="spacingAndGlyphs">Oct</text>
<text x="503.6" y="820" font-size="12" fill="#50535c" font-weight="normal" textLength="19.9" lengthAdjust="spacingAndGlyphs">Nov</text>
<text x="625.5" y="820" font-size="12" fill="#50535c" font-weight="normal" textLength="20" lengthAdjust="spacingAndGlyphs">Dec</text>
<text x="739.6" y="820" font-size="12" fill="#131722" font-weight="bold" textLength="25.8" lengthAdjust="spacingAndGlyphs">2024</text>
<text x="865.5" y="820" font-size="12" fill="#50535c" font-weight="normal" textLength="20" lengthAdjust="spacingAndGlyphs">Feb</text>
<text x="982.1" y="820" font-size="12" fill="#50535c" font-weight="normal" textLength="20.8" lengthAdjust="spacingAndGlyphs">Mar</text>
<text x="1099.5" y="820" font-size="12" fill="#50535c" font-weight="normal" textLength="18.1" lengthAdjust="spacingAndGlyphs">Apr</text>
<text x="1226.9" y="820" font-size="12" fill="#50535c" font-weight="normal" textLength="21.2" lengthAdjust="spacingAndGlyphs">May</text>
<text x="1355.5" y="820" font-size="12" fill="#50535c" font-weight="normal" textLength="19.9" lengthAdjust="spacingAndGlyphs">Jun</text>
<rect x="10" y="60.6" width="600" height="24.6" fill="#fff" opacity="0.65"/>
<rect x="10" y="669.4" width="124" height="24.6" fill="#fff" opacity="0.65"/>
<rect x="8" y="711.3" width="160" height="24.6" fill="#fff" opacity="0.65"/>
<circle cx="22" cy="17" r="9" fill="#0a93c0"/>
<text x="15" y="20.3" font-size="9.5" font-weight="bold" fill="#fff" textLength="14" lengthAdjust="spacingAndGlyphs">100</text>
<text x="35" y="22.6" font-size="15" fill="#4a4d56" textLength="161" lengthAdjust="spacingAndGlyphs">US 100 Index · 1D · TVC</text>
<circle cx="221" cy="17" r="8.8" fill="#daf0ec"/>
<circle cx="221" cy="17" r="3.9" fill="#089981"/>
<text x="246.6" y="22.2" font-size="12.5" fill="#50535e" textLength="7.7" lengthAdjust="spacingAndGlyphs">O</text>
<text x="256.9" y="22.2" font-size="12.5" fill="#1f6b43" textLength="55.9" lengthAdjust="spacingAndGlyphs">18,992.58</text>
<text x="319.7" y="22.2" font-size="12.5" fill="#50535e" textLength="7.3" lengthAdjust="spacingAndGlyphs">H</text>
<text x="330.4" y="22.2" font-size="12.5" fill="#1f6b43" textLength="54.4" lengthAdjust="spacingAndGlyphs">19,103.79</text>
<text x="392.8" y="22.2" font-size="12.5" fill="#50535e" textLength="5.5" lengthAdjust="spacingAndGlyphs">L</text>
<text x="401.8" y="22.2" font-size="12.5" fill="#1f6b43" textLength="54.3" lengthAdjust="spacingAndGlyphs">18,958.68</text>
<text x="463.6" y="22.2" font-size="12.5" fill="#50535e" textLength="6.6" lengthAdjust="spacingAndGlyphs">C</text>
<text x="472" y="22.2" font-size="12.5" fill="#1f6b43" textLength="56.4" lengthAdjust="spacingAndGlyphs">19,086.93</text>
<text x="536.3" y="22.2" font-size="12.5" fill="#1f6b43" textLength="90.4" lengthAdjust="spacingAndGlyphs">+65.73 (+0.35%)</text>
<rect x="12.5" y="33.5" width="68" height="23" rx="4" fill="#fff" stroke="#f23645"/>
<text x="20.6" y="49.5" font-size="12.3" fill="#f23645" textLength="51.2" lengthAdjust="spacingAndGlyphs">19086.93</text>
<text x="88.8" y="49.5" font-size="12.3" fill="#131722" textLength="20.8" lengthAdjust="spacingAndGlyphs">0.00</text>
<rect x="118.5" y="33.5" width="67" height="23" rx="4" fill="#fff" stroke="#2962ff"/>
<text x="126.9" y="49.5" font-size="12.3" fill="#2962ff" textLength="50.5" lengthAdjust="spacingAndGlyphs">19086.93</text>
<text x="13" y="77.8" font-size="12.1" fill="#4e515a" textLength="382" lengthAdjust="spacingAndGlyphs">MA Ribbon SMA close 20 SMA close 50 SMA close 100 SMA close 200</text>
<text x="405.2" y="76.9" font-size="12.3" fill="#f23645" textLength="56" lengthAdjust="spacingAndGlyphs">18,649.44</text>
<text x="469" y="76.9" font-size="12.3" fill="#2962ff" textLength="55.3" lengthAdjust="spacingAndGlyphs">18,149.22</text>
<text x="531.7" y="76.9" font-size="11.5" fill="#131722" textLength="6.5" lengthAdjust="spacingAndGlyphs">Ø</text>
<text x="546.3" y="76.9" font-size="12.3" fill="#131722" textLength="55.3" lengthAdjust="spacingAndGlyphs">16,767.49</text>
<rect x="13.5" y="87.5" width="28" height="20" rx="3" fill="#fff" stroke="#e0e3eb"/>
<path d="M24 100 l3.5 -3.5 l3.5 3.5" fill="none" stroke="#131722" stroke-width="1.5"/>
<text x="13.3" y="686.7" font-size="12" fill="#4e515a" textLength="67" lengthAdjust="spacingAndGlyphs">ATR 14 RMA</text>
<text x="88.8" y="686.7" font-size="12.5" fill="#b71c1c" textLength="38.2" lengthAdjust="spacingAndGlyphs">219.20</text>
<text x="13.3" y="729.2" font-size="12" fill="#4e515a" textLength="101" lengthAdjust="spacingAndGlyphs">CCI 20 hlc3 SMA 5</text>
<text x="123.9" y="729.2" font-size="12.5" fill="#2962ff">156.30</text>
<g fill="#fff" stroke="#fff" stroke-width="5" stroke-linejoin="round"><path d="M16 773 H27.8 V787.8 H22.1 V778.7 H16 Z"/><circle cx="32.9" cy="775.8" r="2.9"/><path d="M39.2 773 H45.8 L40 787.8 H33.1 Z"/></g>
<g fill="#131722"><path d="M16 773 H27.8 V787.8 H22.1 V778.7 H16 Z"/><circle cx="32.9" cy="775.8" r="2.9"/><path d="M39.2 773 H45.8 L40 787.8 H33.1 Z"/></g>
<defs><filter id="ws" x="-20%" y="-20%" width="140%" height="140%"><feDropShadow dx="1.6" dy="2" stdDeviation="0.8" flood-color="#3a3a3a" flood-opacity="0.7"/></filter><filter id="ws2" x="-20%" y="-20%" width="140%" height="140%"><feDropShadow dx="1" dy="1.5" stdDeviation="0.7" flood-color="#4a6a8a" flood-opacity="0.6"/></filter></defs>
<g filter="url(#ws)" opacity="0.85" fill="#fbfcff" fill-rule="evenodd"><polygon points="1269.7,741.1 1280.4,741.1 1279.9,753.5 1269.2,753.5"/><polygon points="1280.4,743.0 1322.4,743.0 1321.9,747.7 1280.2,747.7"/><polygon points="1266.0,755.0 1319.1,755.0 1317.4,770.6 1264.7,770.6 1266.0,755.0 1290.6,758.5 1288.4,766.3 1306.1,766.3 1307.4,758.5 1290.6,758.5"/><polygon points="1318.7,747.7 1322.4,747.7 1314.6,789.6 1310.9,789.6"/><polygon points="1275.0,770.6 1316.1,770.6 1312.4,790.9 1273.3,790.9 1275.0,770.6 1286.7,773.6 1283.3,784.4 1301.7,784.4 1303.6,773.6 1286.7,773.6"/><polygon points="1256.5,787.0 1266.8,787.0 1275.0,770.6 1278.5,770.6 1269.2,790.9 1256.9,790.9"/><polygon points="1329.9,744.3 1370.5,744.3 1370.1,746.4 1329.5,746.4"/><polygon points="1336.4,746.4 1340.3,746.4 1338.1,759.4 1334.2,759.4"/><polygon points="1325.1,759.4 1366.2,759.4 1365.7,768.0 1324.3,768.0"/><polygon points="1361.9,768.0 1364.9,768.0 1363.2,781.8 1360.1,781.8"/><polygon points="1320.8,778.4 1362.7,778.4 1362.3,781.8 1320.4,781.8"/><polygon points="1374.8,736.0 1378.7,736.0 1369.6,790.9 1365.7,790.9"/><polygon points="1345.9,789.6 1368.3,789.6 1367.9,792.6 1345.4,792.6"/><polygon points="1389.6,740.2 1394.9,740.2 1386.6,776.8 1381.4,776.8"/><polygon points="1389.6,744.0 1406.8,744.0 1406.4,748.4 1389.3,748.4"/><polygon points="1401.6,744.0 1406.8,744.0 1398.6,776.8 1393.4,776.8"/><polygon points="1382.2,775.3 1386.6,775.3 1380.7,787.2 1376.2,787.2"/><polygon points="1394.9,776.8 1399.3,776.8 1403.8,788.7 1400.1,788.7"/><polygon points="1411.3,740.2 1416.5,740.2 1406.8,781.3 1401.6,781.3"/><polygon points="1400.8,786.5 1429.2,786.5 1428.4,790.2 1400.1,790.2"/><polygon points="1409.8,749.9 1429.6,749.9 1429.2,752.5 1409.4,752.5"/><polygon points="1424.7,753.7 1428.4,753.7 1412.8,788.7 1409.0,788.7"/><polygon points="1439.7,740.2 1444.2,740.2 1430.7,788.7 1426.3,788.7"/><polygon points="1464.3,740.2 1468.8,740.2 1456.9,752.9 1452.4,752.9"/><polygon points="1465.8,752.9 1470.3,752.9 1453.9,770.8 1449.4,770.8"/><polygon points="1442.7,775.3 1462.1,775.3 1461.3,779.8 1441.9,779.8"/><polygon points="1474.0,743.2 1489.0,743.2 1488.6,746.2 1473.7,746.2"/><polygon points="1499.4,741.7 1503.9,741.7 1491.2,755.1 1486.7,755.1"/><polygon points="1468.8,762.6 1497.5,762.6 1496.8,766.3 1468.4,766.3"/><polygon points="1462.1,772.3 1495.7,772.3 1494.9,775.7 1461.7,775.7"/><polygon points="1483.7,775.7 1486.7,775.7 1482.2,787.2 1479.3,787.2"/><polygon points="1439.0,787.6 1491.6,787.6 1490.8,791.7 1438.6,791.7"/><polygon points="1480.7,756.6 1483.7,756.6 1494.9,758.1 1494.2,760.4 1482.2,759.6"/></g>
<g filter="url(#ws2)" font-family="'Liberation Sans', sans-serif" font-weight="bold" font-style="italic" font-size="33" fill="#6fb5f8" opacity="0.8"><text transform="translate(1270.3,826) scale(1.12,1)">z</text><text transform="translate(1297.4,826) scale(1.12,1)">z</text><text transform="translate(1325.4,826) scale(1.12,1)">r</text><text transform="translate(1348.7,826) scale(1.12,1)">t</text><text transform="translate(1367,826) scale(1.12,1)">0</text><text transform="translate(1400.8,826) scale(1.12,1)">1</text><text transform="translate(1427.9,826) scale(1.12,1)">.</text><text transform="translate(1446.5,826) scale(1.12,1)">c</text><text transform="translate(1473.6,826) scale(1.12,1)">n</text></g>
<path d="M1462 816 l3 -5.2 h6 l3 5.2 l-3 5.2 h-6z" fill="#fff" stroke="#131722" stroke-width="1.3"/>
<circle cx="1468" cy="816" r="2" fill="none" stroke="#131722" stroke-width="1.3"/>
</svg>
</body></html>
